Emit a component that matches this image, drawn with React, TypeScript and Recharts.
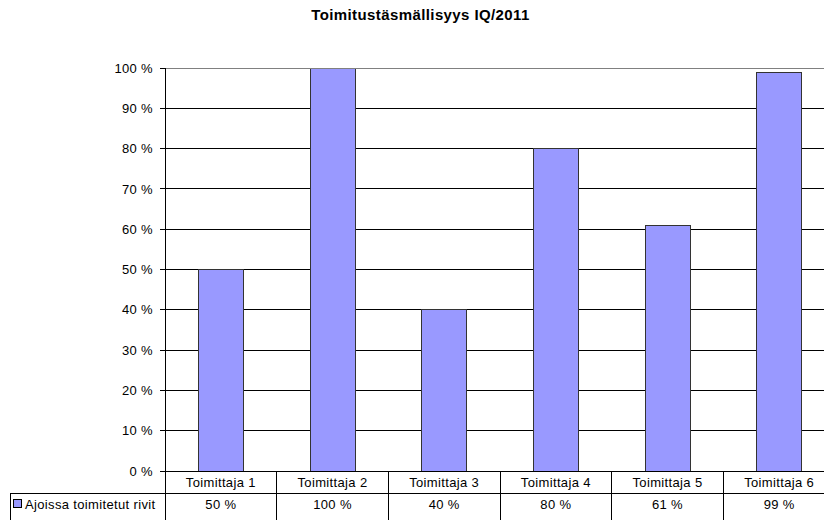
import { BarChart, Bar, XAxis, YAxis, CartesianGrid, ReferenceLine } from "recharts";

const suppliers = ["Toimittaja 1", "Toimittaja 2", "Toimittaja 3", "Toimittaja 4", "Toimittaja 5", "Toimittaja 6"];
const onTime = [50, 100, 40, 80, 61, 99];
const yTicks = [0, 10, 20, 30, 40, 50, 60, 70, 80, 90, 100];
const seriesName = "Ajoissa toimitetut rivit";

const data = suppliers.map((name, i) => ({ name, value: onTime[i] }));

const W = 836;
const H = 520;
const LEFT = 165;
const TOP = 68;
const BOTTOM = 471;
const BAND = (W - LEFT - 1) / suppliers.length;
const FONT = "Arial, 'Liberation Sans', sans-serif";
const FS = 13;
const BAR_FILL = "#9999FF";

function TableTick(props: any) {
  const { x, payload, index } = props;
  const half = BAND / 2;
  return (
    <g>
      {index === 0 && (
        <g>
          <line x1={LEFT} x2={LEFT} y1={BOTTOM} y2={H} stroke="#000" />
          <line x1={10} x2={LEFT} y1={BOTTOM + 22} y2={BOTTOM + 22} stroke="#000" />
          <line x1={10.5} x2={10.5} y1={BOTTOM + 22} y2={H} stroke="#000" />
          <rect x={13.5} y={499.5} width={8} height={8} fill={BAR_FILL} stroke="#000" />
          <text x={25} y={BOTTOM + 38} fontSize={FS} fontFamily={FONT} fill="#000" letterSpacing={0.35}>
            {seriesName}
          </text>
        </g>
      )}
      <line x1={x + half} x2={x + half} y1={BOTTOM} y2={H} stroke="#000" />
      <line x1={x - half} x2={x + half} y1={BOTTOM + 22} y2={BOTTOM + 22} stroke="#000" />
      <text x={x} y={BOTTOM + 16} textAnchor="middle" fontSize={FS} fontFamily={FONT} fill="#000" letterSpacing={0.35}>
        {payload.value}
      </text>
      <text x={x} y={BOTTOM + 38} textAnchor="middle" fontSize={FS} fontFamily={FONT} fill="#000" letterSpacing={0.35}>
        {onTime[index]} %
      </text>
    </g>
  );
}

export default function App() {
  return (
    <div style={{ position: "fixed", left: 0, top: 0, width: 824, height: 520, overflow: "hidden", background: "#fff" }}>
      <style>{`.recharts-wrapper line, .recharts-wrapper rect, .recharts-wrapper path { shape-rendering: crispEdges; }`}</style>
      <div
        style={{
          position: "absolute",
          top: 6,
          left: 0,
          width: 841,
          textAlign: "center",
          fontFamily: FONT,
          fontWeight: "bold",
          fontSize: 15,
          letterSpacing: 0.4,
          color: "#000",
        }}
      >
        Toimitustäsmällisyys IQ/2011
      </div>
      <BarChart
        width={W}
        height={H}
        data={data}
        margin={{ top: TOP, right: 1, left: 0, bottom: 0 }}
        barCategoryGap="30%"
      >
        <CartesianGrid vertical={false} stroke="#000" />
        <ReferenceLine y={100} stroke="#808080" />
        <XAxis
          dataKey="name"
          interval={0}
          height={H - BOTTOM}
          axisLine={{ stroke: "#000" }}
          tickLine={false}
          tick={<TableTick />}
        />
        <YAxis
          width={LEFT}
          domain={[0, 100]}
          ticks={yTicks}
          tickFormatter={(v: number) => `${v} %`}
          axisLine={{ stroke: "#000" }}
          tickLine={{ stroke: "#000" }}
          tickSize={5}
          tickMargin={7}
          tick={{ fill: "#000", fontSize: FS, fontFamily: FONT, letterSpacing: 0.35 }}
        />
        <Bar dataKey="value" fill={BAR_FILL} stroke="#333" strokeWidth={1} isAnimationActive={false} />
      </BarChart>
    </div>
  );
}
